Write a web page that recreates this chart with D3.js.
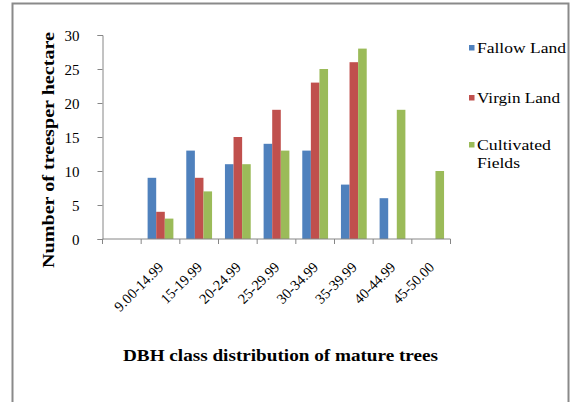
<!DOCTYPE html>
<html>
<head>
<meta charset="utf-8">
<script src="https://cdn.jsdelivr.net/npm/d3@7"></script>
<style>
  html, body { margin: 0; padding: 0; background: #fff; }
  svg { display: block; }
</style>
</head>
<body>
<svg id="chart" width="576" height="402"></svg>
<script>
// DBH classes (first slot on the axis is left empty)
const categories = ["", "9.00-14.99", "15-19.99", "20-24.99", "25-29.99", "30-34.99", "35-39.99", "40-44.99", "45-50.00"];
const seriesNames = ["Fallow Land", "Virgin Land", "Cultivated Fields"];
const fallowLand = [null, 9, 13, 11, 14, 13, 8, 6, null];
const virginLand = [null, 4, 9, 15, 19, 23, 26, null, null];
const cultivatedFields = [null, 3, 7, 11, 13, 25, 28, 19, 10];
const yTicks = [0, 5, 10, 15, 20, 25, 30];
const colors = ["#4F81BD", "#C0504D", "#9BBB59"];

const seriesValues = [fallowLand, virginLand, cultivatedFields];
const SERIF = "'Liberation Serif', 'Times New Roman', serif";

const svg = d3.select("#chart");

// outer frame
svg.append("rect")
  .attr("x", 12.5).attr("y", 3.5)
  .attr("width", 556).attr("height", 410)
  .attr("fill", "none").attr("stroke", "#8a8a8a").attr("stroke-width", 2);

const plot = { left: 102.5, right: 450.5, top: 35, bottom: 239 };

const x = d3.scaleBand()
  .domain(categories.map((c, i) => i))
  .range([plot.left, plot.right])
  .paddingInner(0).paddingOuter(0);

const y = d3.scaleLinear().domain([0, 30]).range([plot.bottom, plot.top]);

const x1 = d3.scaleBand()
  .domain(seriesNames)
  .range([0, x.bandwidth()])
  .paddingInner(0).paddingOuter(0.75);

// bars
seriesNames.forEach((name, si) => {
  svg.append("g")
    .selectAll("rect")
    .data(seriesValues[si].map((v, i) => ({ v, i })).filter(d => d.v != null))
    .join("rect")
    .attr("x", d => x(d.i) + x1(name))
    .attr("width", x1.bandwidth())
    .attr("y", d => y(d.v))
    .attr("height", d => y(0) - y(d.v))
    .attr("fill", colors[si]);
});

// y axis
const yAxis = svg.append("g")
  .attr("transform", `translate(${plot.left},0)`)
  .call(d3.axisLeft(y).tickValues(yTicks).tickSize(5).tickPadding(18));
yAxis.attr("font-family", SERIF).attr("font-size", 15);
yAxis.select(".domain").attr("stroke", "#868686");
yAxis.selectAll(".tick line").attr("stroke", "#868686");
yAxis.selectAll(".tick text").attr("fill", "#000").attr("dy", "0.35em");

// x axis: ticks at band boundaries
const xAxisG = svg.append("g").attr("transform", `translate(0,${plot.bottom})`);
xAxisG.append("line")
  .attr("x1", plot.left).attr("x2", plot.right)
  .attr("stroke", "#868686");
xAxisG.selectAll("line.tk")
  .data(d3.range(categories.length + 1))
  .join("line").attr("class", "tk")
  .attr("x1", i => plot.left + i * x.step())
  .attr("x2", i => plot.left + i * x.step())
  .attr("y1", 0).attr("y2", 5)
  .attr("stroke", "#868686");

xAxisG.selectAll("text")
  .data(categories.map((c, i) => ({ c, i })).filter(d => d.c))
  .join("text")
  .attr("transform", d => `translate(${x(d.i) + x.bandwidth() / 2 + 4},${29}) rotate(-45)`)
  .attr("text-anchor", "end")
  .attr("font-family", SERIF).attr("font-size", 14.5)
  .text(d => d.c);

// axis titles
svg.append("text")
  .attr("transform", `translate(54,150) rotate(-90)`)
  .attr("text-anchor", "middle")
  .attr("font-family", SERIF).attr("font-size", 17).attr("font-weight", "bold")
  .attr("textLength", 236).attr("lengthAdjust", "spacingAndGlyphs")
  .text("Number of treesper hectare");

svg.append("text")
  .attr("x", 280.5).attr("y", 361)
  .attr("text-anchor", "middle")
  .attr("font-family", SERIF).attr("font-size", 17).attr("font-weight", "bold")
  .attr("textLength", 315).attr("lengthAdjust", "spacingAndGlyphs")
  .text("DBH class distribution of mature trees");

// legend
const legendRows = [
  { lines: ["Fallow Land"], widths: [89], y: 48 },
  { lines: ["Virgin Land"], widths: [83], y: 98 },
  { lines: ["Cultivated", "Fields"], widths: [74, 43], y: 145 }
];
const legend = svg.append("g").attr("font-family", SERIF).attr("font-size", 15);
legendRows.forEach((r, i) => {
  legend.append("rect")
    .attr("x", 469).attr("y", r.y - 3)
    .attr("width", 5.5).attr("height", 5.5)
    .attr("fill", colors[i]);
  r.lines.forEach((ln, j) => {
    legend.append("text")
      .attr("x", 477).attr("y", r.y + 5 + j * 18)
      .attr("textLength", r.widths[j]).attr("lengthAdjust", "spacingAndGlyphs")
      .text(ln);
  });
});
</script>
</body>
</html>
